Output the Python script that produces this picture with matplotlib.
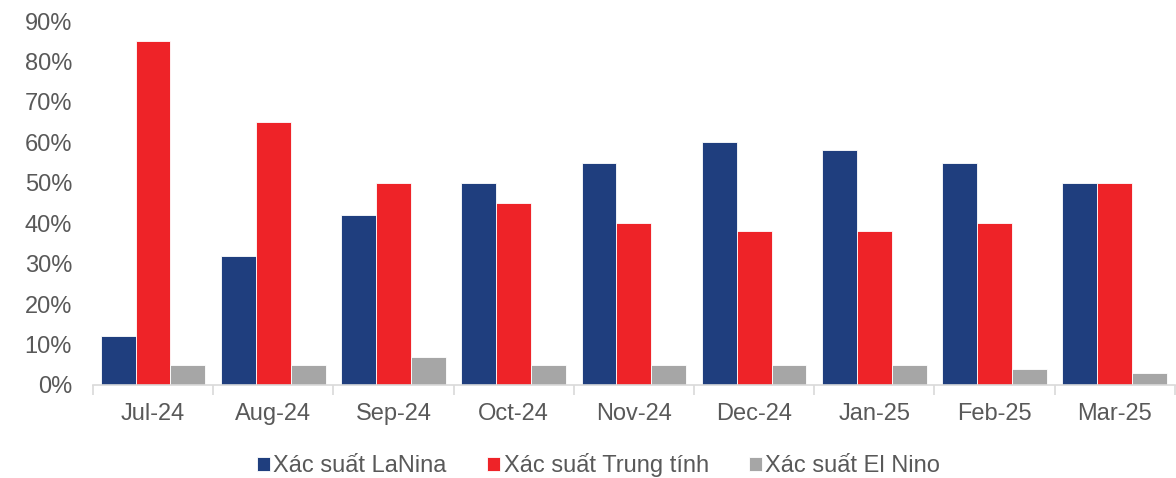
import matplotlib.pyplot as plt
import numpy as np

plt.rcParams["font.family"] = ["Liberation Sans", "DejaVu Sans"]

months = ["Jul-24", "Aug-24", "Sep-24", "Oct-24", "Nov-24", "Dec-24", "Jan-25", "Feb-25", "Mar-25"]
lanina = [12, 32, 42, 50, 55, 60, 58, 55, 50]
neutral = [85, 65, 50, 45, 40, 38, 38, 40, 50]
elnino = [5, 5, 7, 5, 5, 5, 5, 4, 3]

series = [
    ("Xác suất LaNina", lanina, "#1F3E7E"),
    ("Xác suất Trung tính", neutral, "#EE2328"),
    ("Xác suất El Nino", elnino, "#A6A6A6"),
]

text_color = "#595959"
fig = plt.figure(figsize=(11.76, 4.78), dpi=100)
ax = fig.add_axes([0.079, 0.1946, 0.92, 0.7614])

x = np.arange(len(months))
width = 0.29
for i, (label, vals, color) in enumerate(series):
    ax.bar(x + (i - 1) * width, vals, width=width, color=color, label=label,
           edgecolor="white", linewidth=0.6)

ax.set_xlim(-0.5, len(months) - 0.5)
ax.set_ylim(0, 90)
ax.set_yticks(np.arange(0, 91, 10))
ax.set_yticklabels([f"{v}%" for v in range(0, 91, 10)])
ax.set_xticks(x)
ax.set_xticklabels(months)
ax.set_xticks(np.arange(-0.5, len(months), 1), minor=True)
ax.tick_params(axis="x", which="major", length=0, pad=13, labelsize=17, labelcolor=text_color)
ax.tick_params(axis="x", which="minor", length=7, color="#D9D9D9", width=1.2)
ax.tick_params(axis="y", length=0, pad=15, labelsize=17, labelcolor=text_color)

for side in ["top", "right", "left"]:
    ax.spines[side].set_visible(False)
ax.spines["bottom"].set_color("#D9D9D9")
ax.spines["bottom"].set_linewidth(1.2)

leg = fig.legend(loc="center", bbox_to_anchor=(0.509, 0.027), ncol=3, frameon=False,
                 fontsize=17, handlelength=0.55, handleheight=0.55, handletextpad=0.15,
                 columnspacing=1.7)
for t in leg.get_texts():
    t.set_color(text_color)

fig.savefig("out.png", dpi=100)
